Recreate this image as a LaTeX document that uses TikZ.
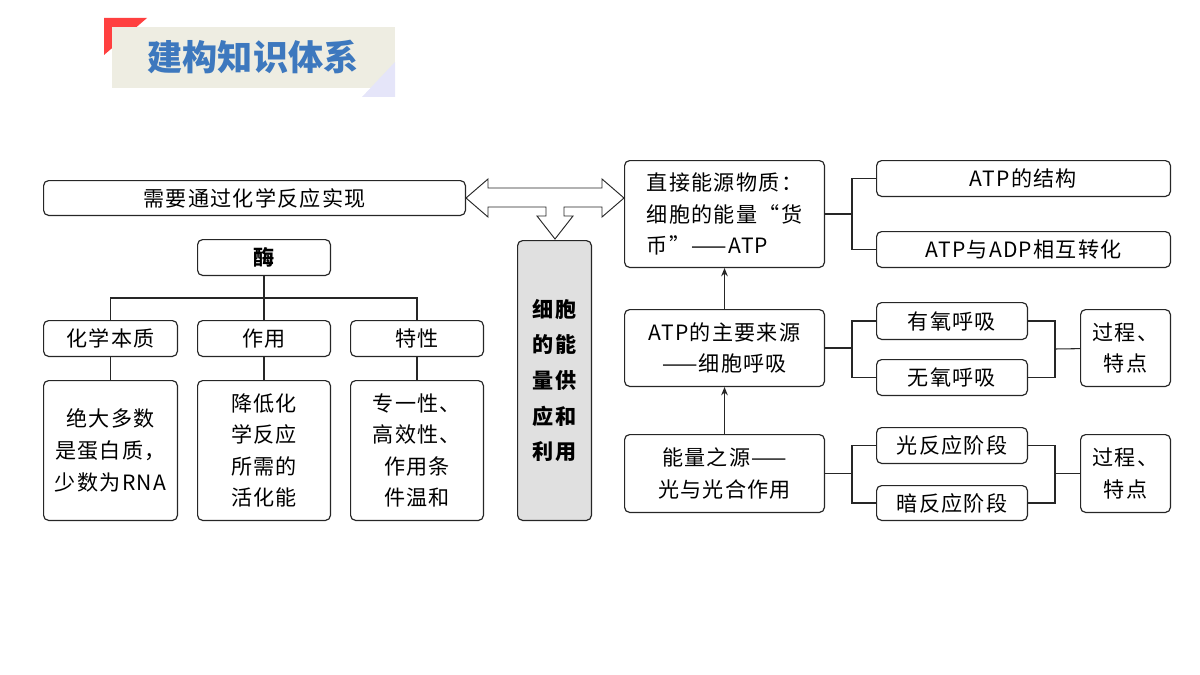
\documentclass[tikz,border=0pt]{standalone}
\usepackage{fontspec}
\setmainfont{Noto Sans CJK SC}[LetterSpace=6]
\newfontfamily\titlefont{Noto Sans CJK SC}
\usetikzlibrary{arrows.meta}
\definecolor{titleblue}{RGB}{61,120,190}
\tikzstyle{box}=[draw=black!85, line width=1pt, rounded corners=1.5mm, shape=rectangle, inner sep=0pt, font=\fontsize{18}{27}\selectfont, align=center]
\tikzstyle{link}=[draw=black!85, line width=0.9pt]
\tikzstyle{uparrow}=[link, -{Stealth[length=0.25cm, width=0.2cm]}]
\newcommand{\mkbox}[6][]{\node [box, #1, minimum width=#4*0.03cm-1pt, minimum height=#5*0.03cm-1pt] (#2) at (#3) {#6};}
\begin{document}
\begin{tikzpicture}[x=0.03cm, y=-0.03cm]
\useasboundingbox (0,0) rectangle (1200,675);
% title
\fill [red!75!white] (104,18) -- (147,18) -- (104,55) -- cycle;
\fill [black!8!white!95!yellow] (112,27) rectangle (395,88);
\fill [black!25!blue!10] (395,62) -- (395,97) -- (362,97) -- cycle;
\node [text=titleblue, font=\titlefont\fontsize{30}{30}\selectfont\bfseries] (title) at (253,57) {建构知识体系};

% left part
\mkbox{react}{254.5,198}{423}{36}{需要通过化学反应实现}
\mkbox[font=\fontsize{18}{27}\selectfont\bfseries]{enz}{264,257.5}{134}{37}{酶}
\mkbox{nature}{110.5,338.5}{135}{37}{化学本质}
\mkbox{role}{264,338.5}{134}{37}{作用}
\mkbox{prop}{417,338.5}{134}{37}{特性}
\mkbox{natured}{110.5,450.5}{135}{141}{绝大多数\\是蛋白质，\\少数为RNA}
\mkbox{roled}{264,450.5}{134}{141}{降低化\\学反应\\所需的\\活化能}
\mkbox{propd}{417,450.5}{134}{141}{专一性、\\高效性、\\作用条\\件温和}
\coordinate (fork) at (264,298);
\draw [link] (enz) -- (fork);
\draw [link] (nature.north) |- (fork) -| (prop.north);
\draw [link] (fork) -- (role);
\draw [link] (nature) -- (natured);
\draw [link] (role) -- (roled);
\draw [link] (prop) -- (propd);

% centre
\mkbox[fill=black!12, font=\fontsize{18}{30.5}\selectfont\bfseries]{core}{554.5,380.5}{75}{281}{细胞\\的能\\量供\\应和\\利用}
\draw [link, line width=0.8pt] (466,198) -- (488,179) -- (488,188) -- (602,188) -- (602,179) -- (624,198)
  -- (602,217) -- (602,207) -- (564,207) -- (564,216) -- (573,216) -- (555,239) -- (537,216) -- (546,216)
  -- (546,207) -- (488,207) -- (488,217) -- cycle;

% right part
\mkbox[align=left]{atp}{724.5,214}{201}{108}{直接能源物质：\\细胞的能量“货\\币”——ATP}
\mkbox{struct}{1023.5,178.5}{295}{37}{ATP的结构}
\mkbox{conv}{1023.5,249.5}{295}{37}{ATP与ADP相互转化}
\mkbox{resp}{724.5,348}{201}{78}{ATP的主要来源\\——细胞呼吸}
\mkbox{aer}{952,321}{152}{38}{有氧呼吸}
\mkbox{anaer}{952,377.5}{152}{37}{无氧呼吸}
\mkbox{respd}{1125.5,348}{91}{78}{过程、\\特点}
\mkbox{photo}{724.5,473.5}{201}{79}{能量之源——\\光与光合作用}
\mkbox{light}{952,445.5}{152}{37}{光反应阶段}
\mkbox{dark}{952,503}{152}{36}{暗反应阶段}
\mkbox{photod}{1125.5,473.5}{91}{79}{过程、\\特点}

\coordinate (b1) at (852,214);
\draw [link] (atp.east |- b1) -- (b1);
\draw [link] (struct.west) -| (b1) |- (conv.west);
\coordinate (b2) at (852,348);
\draw [link] (resp) -- (b2);
\draw [link] (aer.west) -| (b2) |- (anaer.west);
\coordinate (b3) at (1055,349);
\draw [link] (aer.east) -| (b3) |- (anaer.east);
\draw [link] (b3) -- (respd);
\coordinate (b4) at (852,473.5);
\draw [link] (photo) -- (b4);
\draw [link] (light.west) -| (b4) |- (dark.west);
\coordinate (b5) at (1055,473.5);
\draw [link] (light.east) -| (b5) |- (dark.east);
\draw [link] (b5) -- (photod);
\draw [uparrow] (resp) -- (atp);
\draw [uparrow] (photo) -- (resp);
\end{tikzpicture}
\end{document}
